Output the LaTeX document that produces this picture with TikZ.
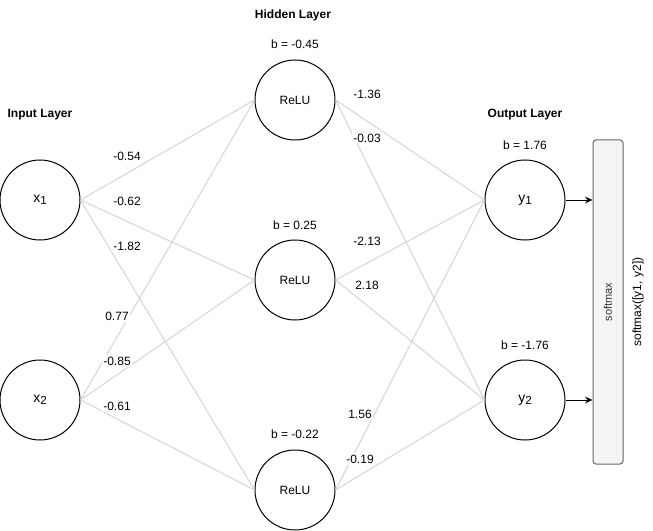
\documentclass[tikz,border=0pt]{standalone}
\usepackage{fontspec}
\setmainfont{Liberation Sans}
\usetikzlibrary{arrows.meta, positioning}
\definecolor{cedge}{HTML}{D4D4D4}
\definecolor{cbox}{HTML}{F5F5F5}
\definecolor{cboxline}{HTML}{666666}
\definecolor{cboxtext}{HTML}{333333}
\newcommand{\sub}[1]{\raisebox{-0.35ex}{\fontsize{8.75}{9}\selectfont #1}}

\begin{document}
\begin{tikzpicture}[x=0.75pt, y=-0.75pt, font=\fontsize{9}{11}\selectfont,
  neuron/.style={draw, circle, line width=0.75pt, minimum size=60pt, inner sep=0pt},
  iovar/.style={neuron, font=\fontsize{10.5}{12}\selectfont},
  layer/.style={font=\fontsize{9}{11}\selectfont\bfseries},
  weight/.style={fill=white, inner sep=1pt},
  edge/.style={draw=cedge, line width=0.75pt},
  arr/.style={line width=0.75pt, -{Stealth[length=5.5pt, width=5pt]}}]

\useasboundingbox (0,0) rectangle (653,531);

% Layer titles
\node[layer] (tin) at (40,115) {Input Layer};
\node[layer] (thid) at (293,15) {Hidden Layer};
\node[layer] (tout) at (525,115) {Output Layer};

% Neurons
\node[iovar] (x1) at (40,200) {x\sub{1}};
\node[iovar] (x2) at (40,400) {x\sub{2}};
\node[neuron] (h1) at (295,100) {ReLU};
\node[neuron] (h2) at (295,280) {ReLU};
\node[neuron] (h3) at (295,490) {ReLU};
\node[iovar] (y1) at (525,200) {y\sub{1}};
\node[iovar] (y2) at (525,400) {y\sub{2}};

% Biases
\node (bh1) at (295,44) {b = -0.45};
\node (bh2) at (295,225) {b = 0.25};
\node (bh3) at (295,434) {b = -0.22};
\node (by1) at (525,145) {b = 1.76};
\node (by2) at (525,345) {b = -1.76};

% Connections
\foreach \i in {1,2}
  \foreach \h in {h1,h2,h3}
    \draw[edge] (x\i.east) -- (\h.west);
\foreach \h in {h1,h2,h3}
  \foreach \o in {y1,y2}
    \draw[edge] (\h.east) -- (\o.west);

% Weights, input -> hidden
\node[weight] (w11) at (127,156) {-0.54};
\node[weight] (w12) at (127,201) {-0.62};
\node[weight] (w13) at (127,246) {-1.82};
\node[weight] (w21) at (117,316) {0.77};
\node[weight] (w22) at (117,361) {-0.85};
\node[weight] (w23) at (117,406) {-0.61};

% Weights, hidden -> output
\node[weight] (v11) at (367,94) {-1.36};
\node[weight] (v12) at (367,138) {-0.03};
\node[weight] (v21) at (367,241) {-2.13};
\node[weight] (v22) at (367,285) {2.18};
\node[weight] (v31) at (360,414) {1.56};
\node[weight] (v32) at (360,459) {-0.19};

% Softmax block
\node[draw=cboxline, fill=cbox, rounded corners=2.25pt, line width=0.75pt,
  minimum width=22.5pt, minimum height=243pt, inner sep=0pt,
  text=cboxtext, font=\fontsize{8.25}{10}\selectfont] (sm) at (608,302)
  {\rotatebox{90}{softmax}};
\node[rotate=90] (smout) at (638,302) {softmax([y1, y2])};

\draw[arr] (y1.east) -- (y1.east -| sm.west);
\draw[arr] (y2.east) -- (y2.east -| sm.west);

\end{tikzpicture}
\end{document}
